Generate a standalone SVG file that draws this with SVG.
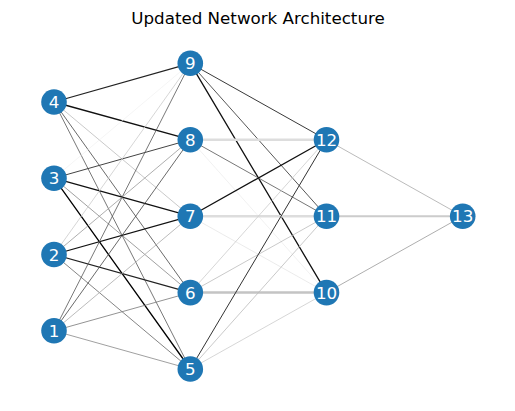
<svg xmlns="http://www.w3.org/2000/svg" width="515" height="411" viewBox="0 0 515 411">
<style>
.n circle{fill:#1f77b4}
.n text{fill:#fff;font-family:"DejaVu Sans",sans-serif;font-size:16.7px;text-anchor:middle;dominant-baseline:central}
.e line{stroke-linecap:round;fill:none}
.title{font-family:"DejaVu Sans",sans-serif;font-size:16.7px;text-anchor:middle;fill:#000}
</style>
<rect width="515" height="411" fill="#fff"/>
<text class="title" x="258" y="24">Updated Network Architecture</text>
<g id="connectors" class="e">
<line x1="54" y1="102" x2="190.3" y2="63.3" stroke="#222" stroke-width="1.2"/>
<line x1="54" y1="102" x2="190.3" y2="139.7" stroke="#111" stroke-width="1.3"/>
<line x1="54" y1="102" x2="190.3" y2="216.2" stroke="#bbb" stroke-width="0.8"/>
<line x1="54" y1="102" x2="190.3" y2="292.6" stroke="#444" stroke-width="0.8"/>
<line x1="54" y1="102" x2="190.3" y2="369" stroke="#555" stroke-width="0.8"/>
<line x1="54" y1="178.2" x2="190.3" y2="63.3" stroke="#eee" stroke-width="0.6"/>
<line x1="54" y1="178.2" x2="190.3" y2="139.7" stroke="#444" stroke-width="1"/>
<line x1="54" y1="178.2" x2="190.3" y2="216.2" stroke="#111" stroke-width="1.2"/>
<line x1="54" y1="178.2" x2="190.3" y2="292.6" stroke="#888" stroke-width="0.8"/>
<line x1="54" y1="178.2" x2="190.3" y2="369" stroke="#000" stroke-width="1.3"/>
<line x1="54" y1="254.5" x2="190.3" y2="63.3" stroke="#ccc" stroke-width="0.8"/>
<line x1="54" y1="254.5" x2="190.3" y2="139.7" stroke="#999" stroke-width="0.8"/>
<line x1="54" y1="254.5" x2="190.3" y2="216.2" stroke="#111" stroke-width="1.2"/>
<line x1="54" y1="254.5" x2="190.3" y2="292.6" stroke="#222" stroke-width="1.2"/>
<line x1="54" y1="254.5" x2="190.3" y2="369" stroke="#666" stroke-width="0.8"/>
<line x1="54" y1="330.8" x2="190.3" y2="63.3" stroke="#555" stroke-width="0.8"/>
<line x1="54" y1="330.8" x2="190.3" y2="139.7" stroke="#444" stroke-width="0.8"/>
<line x1="54" y1="330.8" x2="190.3" y2="216.2" stroke="#aaa" stroke-width="0.8"/>
<line x1="54" y1="330.8" x2="190.3" y2="292.6" stroke="#777" stroke-width="0.8"/>
<line x1="54" y1="330.8" x2="190.3" y2="369" stroke="#888" stroke-width="0.8"/>
<line x1="190.3" y1="63.3" x2="326.5" y2="139.7" stroke="#222" stroke-width="0.9"/>
<line x1="190.3" y1="63.3" x2="326.5" y2="216.2" stroke="#444" stroke-width="0.9"/>
<line x1="190.3" y1="63.3" x2="326.5" y2="292.6" stroke="#111" stroke-width="1.3"/>
<line x1="190.3" y1="139.7" x2="326.5" y2="139.7" stroke="#ddd" stroke-width="2.5"/>
<line x1="190.3" y1="139.7" x2="326.5" y2="216.2" stroke="#777" stroke-width="1"/>
<line x1="190.3" y1="139.7" x2="326.5" y2="292.6" stroke="#eee" stroke-width="0.8"/>
<line x1="190.3" y1="216.2" x2="326.5" y2="139.7" stroke="#111" stroke-width="1.3"/>
<line x1="190.3" y1="216.2" x2="326.5" y2="216.2" stroke="#ddd" stroke-width="2.5"/>
<line x1="190.3" y1="216.2" x2="326.5" y2="292.6" stroke="#e6e6e6" stroke-width="0.8"/>
<line x1="190.3" y1="292.6" x2="326.5" y2="139.7" stroke="#ccc" stroke-width="0.8"/>
<line x1="190.3" y1="292.6" x2="326.5" y2="216.2" stroke="#bbb" stroke-width="0.8"/>
<line x1="190.3" y1="292.6" x2="326.5" y2="292.6" stroke="#c4c4c4" stroke-width="2.5"/>
<line x1="190.3" y1="369" x2="326.5" y2="139.7" stroke="#333" stroke-width="1"/>
<line x1="190.3" y1="369" x2="326.5" y2="216.2" stroke="#bbb" stroke-width="0.8"/>
<line x1="190.3" y1="369" x2="326.5" y2="292.6" stroke="#ccc" stroke-width="0.8"/>
<line x1="326.5" y1="139.7" x2="462.7" y2="216.2" stroke="#aaa" stroke-width="0.8"/>
<line x1="326.5" y1="216.2" x2="462.7" y2="216.2" stroke="#ccc" stroke-width="2"/>
<line x1="326.5" y1="292.6" x2="462.7" y2="216.2" stroke="#999" stroke-width="0.8"/>
</g>
<g id="node-4" class="n"><circle cx="54" cy="102" r="12.8"/><text x="54" y="102">4</text></g>
<g id="node-3" class="n"><circle cx="54" cy="178.2" r="12.8"/><text x="54" y="178.2">3</text></g>
<g id="node-2" class="n"><circle cx="54" cy="254.5" r="12.8"/><text x="54" y="254.5">2</text></g>
<g id="node-1" class="n"><circle cx="54" cy="330.8" r="12.8"/><text x="54" y="330.8">1</text></g>
<g id="node-9" class="n"><circle cx="190.3" cy="63.3" r="12.8"/><text x="190.3" y="63.3">9</text></g>
<g id="node-8" class="n"><circle cx="190.3" cy="139.7" r="12.8"/><text x="190.3" y="139.7">8</text></g>
<g id="node-7" class="n"><circle cx="190.3" cy="216.2" r="12.8"/><text x="190.3" y="216.2">7</text></g>
<g id="node-6" class="n"><circle cx="190.3" cy="292.6" r="12.8"/><text x="190.3" y="292.6">6</text></g>
<g id="node-5" class="n"><circle cx="190.3" cy="369" r="12.8"/><text x="190.3" y="369">5</text></g>
<g id="node-12" class="n"><circle cx="326.5" cy="139.7" r="12.8"/><text x="326.5" y="139.7">12</text></g>
<g id="node-11" class="n"><circle cx="326.5" cy="216.2" r="12.8"/><text x="326.5" y="216.2">11</text></g>
<g id="node-10" class="n"><circle cx="326.5" cy="292.6" r="12.8"/><text x="326.5" y="292.6">10</text></g>
<g id="node-13" class="n"><circle cx="462.7" cy="216.2" r="12.8"/><text x="462.7" y="216.2">13</text></g>
</svg>
